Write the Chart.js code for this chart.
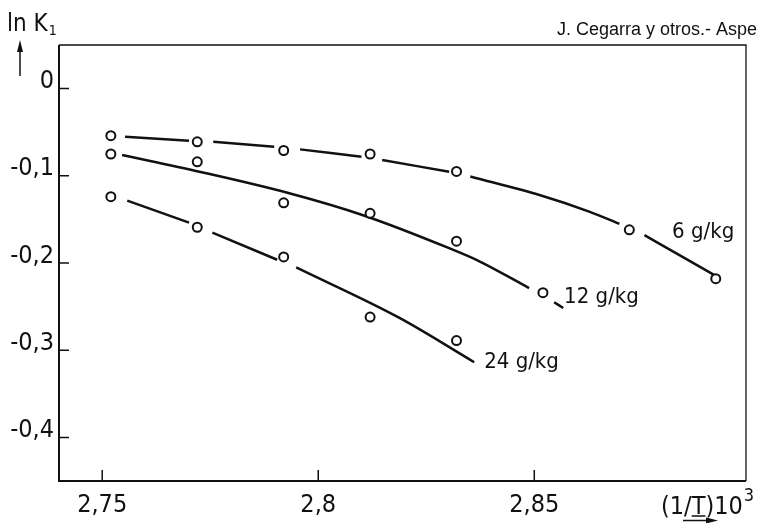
<!DOCTYPE html>
<html>
<head>
<meta charset="utf-8">
<script src="https://cdn.jsdelivr.net/npm/chart.js@4.4.0/dist/chart.umd.min.js"></script>
<style>
  html, body { margin: 0; padding: 0; background: #fff; }
</style>
</head>
<body>
<canvas id="lnkChart" width="763" height="523"></canvas>
<script>
const xTicks = [2.75, 2.8, 2.85];
const xTickLabels = ["2,75", "2,8", "2,85"];
const yTicks = [0, -0.1, -0.2, -0.3, -0.4];
const yTickLabels = ["0", "-0,1", "-0,2", "-0,3", "-0,4"];

// measured points, (1/T)*10^3 vs ln K1
const invT6 = [2.752, 2.772, 2.792, 2.812, 2.832, 2.872, 2.892];
const lnK6 = [-0.054, -0.061, -0.071, -0.075, -0.095, -0.162, -0.218];
const invT12 = [2.752, 2.772, 2.792, 2.812, 2.832, 2.852];
const lnK12 = [-0.075, -0.084, -0.131, -0.143, -0.175, -0.234];
const invT24 = [2.752, 2.772, 2.792, 2.812, 2.832];
const lnK24 = [-0.124, -0.159, -0.193, -0.262, -0.289];

// fitted curves, one sub-array per pen stroke (broken around the circles)
const fit6 = [
  [[2.7553, -0.0553], [2.7701, -0.0598]],
  [[2.7757, -0.061], [2.7898, -0.0667]],
  [[2.7958, -0.0697], [2.81, -0.0781]],
  [[2.8148, -0.0819], [2.8303, -0.0953]],
  [[2.8352, -0.1008], [2.8512, -0.122], [2.8627, -0.141], [2.8697, -0.155]],
  [[2.8755, -0.168], [2.8836, -0.191], [2.8921, -0.215]]
];
const fit12 = [
  [[2.7546, -0.0762], [2.7725, -0.0953], [2.7933, -0.12], [2.8102, -0.1449],
   [2.8303, -0.183], [2.8373, -0.198], [2.8488, -0.2287]],
  [[2.8546, -0.245], [2.8567, -0.2516]]
];
const fit24 = [
  [[2.7558, -0.1285], [2.7701, -0.1537]],
  [[2.7755, -0.1651], [2.7905, -0.1963]],
  [[2.7949, -0.2051], [2.8188, -0.263], [2.8361, -0.3138]]
];

const seriesNames = ["6 g/kg", "12 g/kg", "24 g/kg"];

const narrow = "'DejaVu Sans Condensed', 'Liberation Sans Narrow', 'DejaVu Sans', sans-serif";

function toPoints(xs, ys) {
  return xs.map((x, i) => ({ x: x, y: ys[i] }));
}

function strokes(pieces) {
  const pts = [];
  pieces.forEach((p, i) => {
    if (i > 0) pts.push({ x: p[0][0], y: null });
    p.forEach(([x, y]) => pts.push({ x: x, y: y }));
  });
  return pts;
}

function markers(label, data) {
  return {
    label: label,
    data: data,
    showLine: false,
    pointRadius: 4.5,
    pointBorderWidth: 2,
    pointBackgroundColor: "#fff",
    pointBorderColor: "#111",
  };
}

function curve(label, data) {
  return {
    label: label,
    data: data,
    borderColor: "#111",
    borderWidth: 2.5,
    pointRadius: 0,
    spanGaps: false,
    cubicInterpolationMode: "monotone",
  };
}

// frame, inward ticks and the free text around the plot
const decorations = {
  id: "decorations",
  afterDraw(chart) {
    const { ctx, chartArea: a, scales: { x, y } } = chart;
    ctx.save();
    ctx.strokeStyle = "#111";
    ctx.fillStyle = "#111";

    ctx.lineWidth = 1.3;
    ctx.beginPath();
    ctx.moveTo(a.left, a.top);
    ctx.lineTo(a.right, a.top);
    ctx.lineTo(a.right, a.bottom);
    ctx.stroke();

    ctx.lineWidth = 2;
    ctx.beginPath();
    ctx.moveTo(a.left, a.top);
    ctx.lineTo(a.left, a.bottom);
    ctx.lineTo(a.right, a.bottom);
    ctx.stroke();

    ctx.lineWidth = 1.5;
    ctx.beginPath();
    yTicks.forEach((v) => {
      const py = y.getPixelForValue(v);
      ctx.moveTo(a.left, py);
      ctx.lineTo(a.left + 10, py);
    });
    xTicks.forEach((v) => {
      const px = x.getPixelForValue(v);
      ctx.moveTo(px, a.bottom);
      ctx.lineTo(px, a.bottom - 11);
    });
    ctx.stroke();

    // y axis name with arrow
    ctx.textBaseline = "alphabetic";
    ctx.textAlign = "left";
    ctx.font = "24px " + narrow;
    ctx.fillText("ln K", 7, 31);
    const kw = ctx.measureText("ln K").width;
    ctx.font = "14px " + narrow;
    ctx.fillText("1", 8 + kw, 35);

    ctx.lineWidth = 1.5;
    ctx.beginPath();
    ctx.moveTo(20, 76);
    ctx.lineTo(20, 46);
    ctx.stroke();
    ctx.beginPath();
    ctx.moveTo(20, 40);
    ctx.lineTo(17, 52);
    ctx.lineTo(23, 52);
    ctx.closePath();
    ctx.fill();

    // x axis name with arrow
    ctx.font = "25px " + narrow;
    ctx.fillText("(1/T)10", 661, 514);
    const tw = ctx.measureText("(1/T)10").width;
    const uStart = 661 + ctx.measureText("(1/").width;
    const uEnd = 661 + ctx.measureText("(1/T").width;
    ctx.font = "18px " + narrow;
    ctx.fillText("3", 661 + tw + 1, 501);
    ctx.lineWidth = 1.3;
    ctx.beginPath();
    ctx.moveTo(uStart, 516);
    ctx.lineTo(uEnd, 516);
    ctx.moveTo(683, 520.5);
    ctx.lineTo(710, 520.5);
    ctx.stroke();
    ctx.beginPath();
    ctx.moveTo(718, 520.5);
    ctx.lineTo(706, 517.5);
    ctx.lineTo(706, 523.5);
    ctx.closePath();
    ctx.fill();

    // running header
    ctx.font = "18px 'Liberation Sans', Arial, sans-serif";
    ctx.fillText("J. Cegarra y otros.- Aspe", 557, 35);

    // series names next to their curves
    ctx.font = "22px " + narrow;
    const anchors = [[2.8819, -0.171], [2.8569, -0.2455], [2.8384, -0.3203]];
    anchors.forEach(([vx, vy], i) => {
      ctx.fillText(seriesNames[i], x.getPixelForValue(vx), y.getPixelForValue(vy));
    });
    ctx.restore();
  },
};

new Chart(document.getElementById("lnkChart"), {
  type: "line",
  data: {
    datasets: [
      markers(seriesNames[0], toPoints(invT6, lnK6)),
      markers(seriesNames[1], toPoints(invT12, lnK12)),
      markers(seriesNames[2], toPoints(invT24, lnK24)),
      curve(seriesNames[0], strokes(fit6)),
      curve(seriesNames[1], strokes(fit12)),
      curve(seriesNames[2], strokes(fit24)),
    ],
  },
  options: {
    responsive: false,
    animation: false,
    devicePixelRatio: 1,
    layout: { padding: { top: 45, right: 17, left: 0, bottom: 0 } },
    plugins: { legend: { display: false }, tooltip: { enabled: false } },
    scales: {
      x: {
        type: "linear",
        min: 2.74,
        max: 2.899,
        border: { display: false },
        grid: { drawOnChartArea: false, drawTicks: false },
        afterBuildTicks: (axis) => {
          axis.ticks = xTicks.map((v) => ({ value: v }));
        },
        afterFit: (axis) => {
          axis.height = 42;
        },
        ticks: {
          color: "#111",
          padding: 9,
          maxRotation: 0,
          font: { family: narrow, size: 25 },
          callback: (v) => xTickLabels[xTicks.indexOf(v)],
        },
      },
      y: {
        type: "linear",
        min: -0.45,
        max: 0.05,
        border: { display: false },
        grid: { drawOnChartArea: false, drawTicks: false },
        afterBuildTicks: (axis) => {
          axis.ticks = yTicks.map((v) => ({ value: v }));
        },
        afterFit: (axis) => {
          axis.width = 59;
        },
        ticks: {
          color: "#111",
          padding: 5,
          labelOffset: -7,
          font: { family: narrow, size: 25 },
          callback: (v) => yTickLabels[yTicks.indexOf(v)],
        },
      },
    },
  },
  plugins: [decorations],
});
</script>
</body>
</html>
